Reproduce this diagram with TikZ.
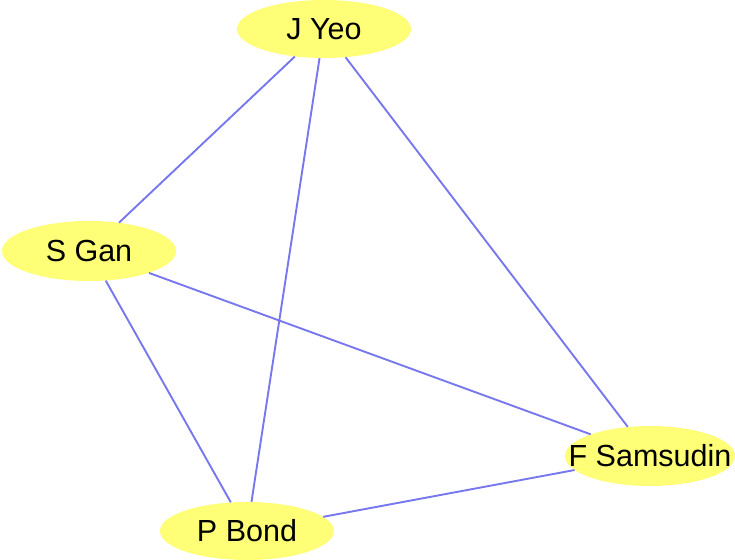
\documentclass[tikz,border=0pt]{standalone}
\usepackage{fontspec}
\setmainfont{Liberation Sans}
\usepackage{xcolor}
\usepackage{tikz}
\usetikzlibrary{shapes.geometric}

\definecolor{nodefill}{RGB}{255,255,119}
\definecolor{edgeblue}{RGB}{119,119,238}

\tikzset{
  person/.style={ellipse, fill=nodefill, draw=none, inner sep=0pt,
                 minimum width=174pt, minimum height=58pt,
                 font=\fontsize{30.5}{34}\selectfont},
  tie/.style={edgeblue, line width=1.9pt}
}

\begin{document}
\begin{tikzpicture}[x=1pt, y=-1pt]
  \useasboundingbox (0,0) rectangle (735,559);

  \node[person] (yeo) at (324, 29) {J Yeo};
  \node[person, minimum height=60pt] (gan) at (89, 251) {S Gan};
  \node[person, minimum width=170pt, minimum height=60pt] (samsudin) at (650, 456)
    {\makebox[0pt]{F Samsudin}};
  \node[person] (bond) at (247, 531) {P Bond};

  \draw[tie] (yeo) -- (gan);
  \draw[tie] (yeo) -- (bond);
  \draw[tie] (yeo) -- (samsudin);
  \draw[tie] (gan) -- (samsudin);
  \draw[tie] (gan) -- (bond);
  \draw[tie] (bond) -- (samsudin);
\end{tikzpicture}
\end{document}
